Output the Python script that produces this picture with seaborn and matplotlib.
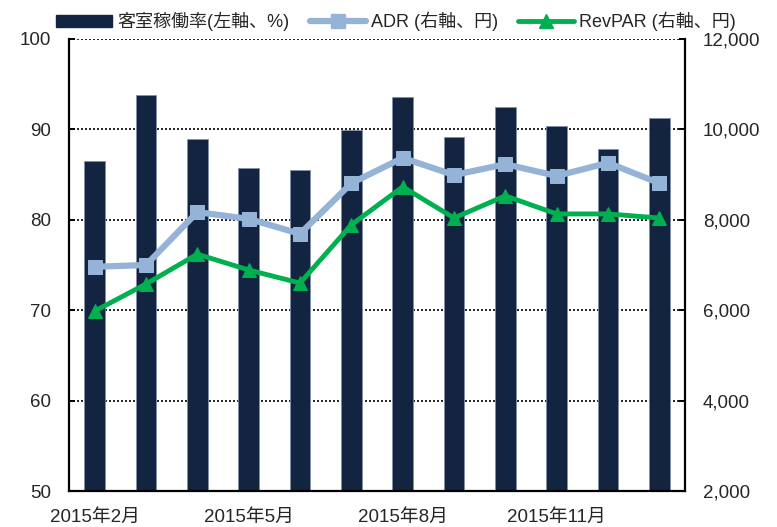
import pandas as pd
import numpy as np
import seaborn as sns
import matplotlib.pyplot as plt
from matplotlib.patches import Patch
from matplotlib.lines import Line2D
from matplotlib.ticker import FuncFormatter

months = ['2015年2月', '2015年3月', '2015年4月', '2015年5月', '2015年6月', '2015年7月',
          '2015年8月', '2015年9月', '2015年10月', '2015年11月', '2015年12月', '2016年1月']
occupancy = [86.5, 93.8, 88.9, 85.7, 85.5, 89.9, 93.6, 89.2, 92.5, 90.4, 87.8, 91.3]
adr = [6960, 7000, 8170, 8020, 7690, 8810, 9370, 8990, 9230, 8970, 9260, 8810]
revpar = [5980, 6580, 7240, 6890, 6600, 7890, 8730, 8040, 8530, 8130, 8130, 8040]
tick_labels = ['2015年2月', '2015年5月', '2015年8月', '2015年11月']

df = pd.DataFrame({'month': months, 'occ': occupancy, 'adr': adr, 'revpar': revpar})
df['pos'] = np.arange(len(df))

sns.set_style('white')
plt.rcParams['font.family'] = ['Liberation Sans', 'Noto Sans CJK JP', 'DejaVu Sans']

navy = '#12243f'
light = '#95b3d7'
green = '#00b050'

fig = plt.figure(figsize=(7.77, 5.27), dpi=100)
ax = fig.add_axes([0.0888, 0.0683, 0.7928, 0.8577])

sns.barplot(data=df, x='month', y='occ', color=navy, width=0.4, saturation=1,
            edgecolor='#8090a8', linewidth=0.6, ax=ax, zorder=2)
ax.set_ylim(50, 100)
ax.set_xlim(-0.5, 11.5)
ax.set_yticks([50, 60, 70, 80, 90, 100])
for y in [60, 70, 80, 90, 100]:
    ax.axhline(y, color='black', linestyle=(0, (1.2, 1.2)), linewidth=1.2, zorder=1)
ax.set_xticks([0, 3, 6, 9])
ax.set_xticklabels(tick_labels, fontsize=13.5)
ax.set_xlabel('')
ax.set_ylabel('')
ax.tick_params(axis='y', labelsize=13.5, direction='in', length=4.5, width=1.4,
               color='black', pad=13)
ax.tick_params(axis='x', length=0, pad=13)
for s in ['left', 'bottom', 'right']:
    ax.spines[s].set_color('black')
    ax.spines[s].set_linewidth(1.6)
ax.spines['top'].set_visible(False)

ax2 = ax.twinx()
sns.lineplot(x=df['pos'], y=df['adr'], color=light, linewidth=4.5, marker='s',
             markersize=10.5, markeredgecolor=light, ax=ax2, zorder=3)
sns.lineplot(x=df['pos'], y=df['revpar'], color=green, linewidth=3.5, marker='^',
             markersize=10.5, markeredgecolor=green, ax=ax2, zorder=4)
ax2.set_ylim(2000, 12000)
ax2.set_xlim(-0.5, 11.5)
ax2.set_yticks([2000, 4000, 6000, 8000, 10000, 12000])
ax2.yaxis.set_major_formatter(FuncFormatter(lambda v, p: f'{int(v):,}'))
ax2.tick_params(axis='y', labelsize=13.5, direction='in', length=4.5, width=1.4,
                color='black', pad=13)
ax2.set_ylabel('')
ax2.set_xlabel('')
for s in ax2.spines.values():
    s.set_visible(False)

handles = [
    Patch(facecolor=navy, edgecolor=navy),
    Line2D([0], [0], color=light, linewidth=4.5, marker='s', markersize=10),
    Line2D([0], [0], color=green, linewidth=3.5, marker='^', markersize=10),
]
labels = ['客室稼働率(左軸、%)', 'ADR (右軸、円)', 'RevPAR (右軸、円)']
fig.legend(handles, labels, loc='upper center', bbox_to_anchor=(0.51, 1.008), ncol=3,
           frameon=False, fontsize=13, handlelength=3.1, handleheight=0.58,
           columnspacing=1.1, handletextpad=0.3)

plt.savefig('out.png', dpi=100)
